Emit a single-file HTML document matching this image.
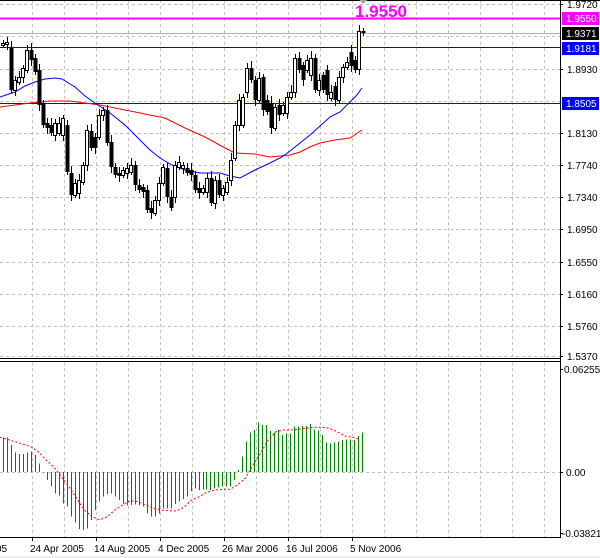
<!DOCTYPE html>
<html><head><meta charset="utf-8"><style>
html,body{margin:0;padding:0;background:#fff;width:600px;height:558px;overflow:hidden}
svg{display:block}
text{font-family:"Liberation Sans",sans-serif;font-size:10px}
</style></head><body>
<svg id="s" width="600" height="558" xmlns="http://www.w3.org/2000/svg" shape-rendering="crispEdges"></svg>
<script>
var s=document.getElementById('s'),h='';
function L(x1,y1,x2,y2,c,w,d){h+='<line x1="'+x1+'" y1="'+y1+'" x2="'+x2+'" y2="'+y2+'" stroke="'+c+'" stroke-width="'+(w||1)+'"'+(d?' stroke-dasharray="'+d+'"':'')+'/>';}
function R(x,y,w,hh,f,st){h+='<rect x="'+x+'" y="'+y+'" width="'+w+'" height="'+hh+'" fill="'+f+'"'+(st?' stroke="'+st+'"':'')+'/>';}
function T(x,y,t,c,extra){h+='<text x="'+x+'" y="'+y+'" fill="'+(c||'#000')+'" '+(extra||'')+'>'+t+'</text>';}
for(var gx=32;gx<560;gx+=32){L(gx+.5,0,gx+.5,357,'#c0c0c0',1,'3,3');L(gx+.5,362,gx+.5,537,'#c0c0c0',1,'3,3');}
[4,36,69,101,133,165,197,229,262,294,326,356].forEach(function(y){L(0,y+.5,560,y+.5,'#c0c0c0',1,'3,3');});
L(0,472.5,560,472.5,'#c0c0c0',1,'3,3');
L(0,0.5,600,0.5,'#000');
L(560.5,0,560.5,538,'#000');
L(0,358.5,560,358.5,'#000');L(0,361.5,560,361.5,'#000');
L(0,537.5,560,537.5,'#000');
L(0,33.5,560,33.5,'#b0b0b0');
L(0,18.5,560,18.5,'#ff00ff',2);
L(0,47.5,560,47.5,'#0000ff');
L(0,103.5,560,103.5,'#0000ff');
function PL(pts,c,w,d){h+='<polyline fill="none" stroke="'+c+'" stroke-width="'+(w||1)+'"'+(d?' stroke-dasharray="'+d+'"':'')+' shape-rendering="auto" points="'+pts.map(function(p){return p[0]+','+p[1]}).join(' ')+'"/>';}
PL([[0,107],[30,103],[50,101],[70,101],[85,103],[100,105],[125,110],[150,115],[165,118],[185,128],[205,137],[225,148],[235,153],[255,154],[270,157],[280,156],[290,155],[300,152],[310,147],[320,143],[335,140],[350,138],[362,130]],'#ff0000');
PL([[0,97],[15,92],[25,86],[35,82],[45,79],[55,78],[62,79],[75,87],[85,96],[95,103],[110,113],[125,125],[140,140],[150,150],[160,158],[172,165],[185,170],[200,173],[212,173],[220,173],[230,176],[240,178],[255,170],[270,163],[282,157],[290,151],[300,143],[310,135],[320,126],[330,117],[340,112],[350,102],[356,96],[362,88]],'#0000ff');
var C=[[2,45,43],[6,44,42],[10,48,90],[14,90,80],[18,82,77],[22,77,68],[26,70,50],[30,50,60],[34,58,72],[38,70,105],[42,103,125],[46,123,128],[50,125,133],[54,135,123],[58,133,123],[62,135,118],[66,125,172],[70,173,195],[74,195,183],[78,193,180],[82,182,165],[86,165,130],[90,131,148],[94,137,148],[98,137,115],[102,115,110],[106,110,143],[110,142,167],[114,167,175],[118,173,176],[122,175,170],[126,173,168],[130,172,165],[134,165,185],[138,185,190],[142,187,192],[146,190,210],[150,208,213],[154,213,200],[158,200,183],[162,183,167],[166,168,197],[170,197,208],[174,197,165],[178,167,162],[182,168,165],[186,168,173],[190,170,175],[194,175,190],[198,188,193],[202,192,188],[206,192,178],[210,178,203],[214,203,180],[218,180,195],[222,195,188],[226,192,182],[230,180,160],[234,158,125],[238,125,100],[242,125,97],[246,92,68],[250,68,80],[254,80,100],[258,100,78],[262,77,110],[266,100,112],[270,103,128],[274,128,107],[278,105,115],[282,113,105],[286,113,97],[290,97,92],[294,92,58],[298,58,70],[302,65,80],[306,70,60],[310,75,58],[314,58,90],[318,90,80],[322,75,90],[326,70,95],[330,98,92],[334,86,100],[338,100,77],[342,77,67],[346,67,62],[350,52,66],[354,60,70],[358,69,31],[362,31,33]];
C.forEach(function(c,i){var x=c[0]+1,o=c[1],cl=c[2],t=Math.min(o,cl),b=Math.max(o,cl);
var hi=t-3-(i*7%5),lo=b+3+(i*3%6);L(x+.5,hi,x+.5,lo,'#000');
if(cl<o)R(x-1.5,t+.5,3,Math.max(b-t,1),'#fff','#000');else R(x-1.5,t,4,Math.max(b-t,1),'#000');});
var H=[262,262,285,308,312,312,307,305,315,340,367,390,410,430,437,460,470,500,518,537,540,535,510,480,455,440,432,430,440,450,460,467,465,463,465,470,490,500,500,490,475,475,475,462,455,447,440,423,415,420,418,418,420,415,412,410,410,410,390,360,320,275,248,240,218,225,225,243,248,240,255,250,250,230,230,228,228,222,238,242,255,278,280,278,275,270,268,268,270,258,248];
H.forEach(function(v,i){var x=Math.round(i*3.99)+3,y=350+v/3;L(x+.5,Math.min(y,472),x+.5,Math.max(y,472),'#008000');});
var S=[[0,262],[40,275],[80,290],[100,305],[120,330],[140,350],[160,380],[180,410],[200,445],[220,480],[240,500],[260,510],[280,500],[300,480],[320,465],[340,452],[360,455],[380,465],[400,475],[420,480],[440,482],[460,483],[480,472],[500,450],[520,440],[540,427],[560,420],[580,418],[600,418],[620,405],[640,385],[660,345],[680,310],[700,270],[720,245],[740,240],[760,240],[780,238],[800,235],[820,232],[840,232],[860,235],[880,245],[900,258],[920,262],[940,268]].map(function(p){return [(p[0]/2.61).toFixed(1),(350+p[1]/3).toFixed(1)]});
PL(S,'#ff0000',1,'2,2');
[[1.9720,4],[1.8930,69],[1.8130,133],[1.7740,165],[1.7340,197],[1.6950,229],[1.6550,262],[1.6160,294],[1.5760,326],[1.5370,356]].forEach(function(p){L(560,p[1]+.5,563,p[1]+.5,'#000');T(567,p[1]+4,p[0].toFixed(4));});
function B(y,t,bg){R(562,y-6,37,13,bg);T(566,y+4,t,'#fff');}
B(18,'1.9550','#ff00ff');B(33,'1.9371','#000');B(48,'1.9181','#0000ff');B(103,'1.8505','#0000ff');
T(355,17,'1.9550','#ff00ff','style="font-size:17px;font-weight:bold"');
h+='<polygon points="359,0 367,0 363,4" fill="#a0a0a0"/>';
T(564,373,'0.06255');T(566,476,'0.00');T(562,537,'-0.03821');
[472,369,533].forEach(function(y){L(560,y+.5,563,y+.5,'#000');});
[['05',-4],['24 Apr 2005',30],['14 Aug 2005',94],['4 Dec 2005',158],['26 Mar 2006',222],['16 Jul 2006',286],['5 Nov 2006',350]].forEach(function(d){T(d[1],552,d[0]);L(d[1]+2.5,538,d[1]+2.5,541,'#000');});
R(0,556,600,2,'#ecece4');
s.innerHTML=h;
</script>
</body></html>
